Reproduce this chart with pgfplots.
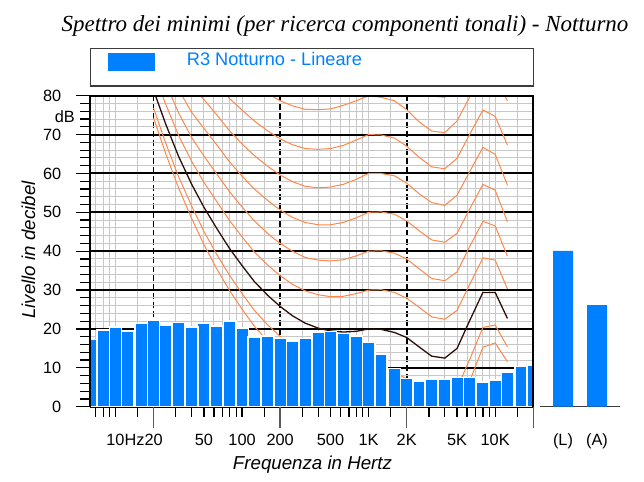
\documentclass[border=0pt]{standalone}
\usepackage{fontspec}
\setmainfont{Liberation Sans}
\newfontfamily\titlefont{Liberation Serif}
\usepackage{pgfplots}
\pgfplotsset{compat=1.18}

\definecolor{barblue}{RGB}{0,128,255}
\definecolor{isoor}{RGB}{255,135,75}
\definecolor{isoblk}{RGB}{45,15,10}
\definecolor{gridgray}{RGB}{200,200,200}
\definecolor{boxgray}{RGB}{60,60,60}
\definecolor{tickgray}{RGB}{90,90,90}

\begin{document}
\begin{tikzpicture}
\useasboundingbox (0,0) rectangle (644pt,481pt);

% titolo e legenda
\node[anchor=base, inner sep=0pt, font=\titlefont\itshape\fontsize{23}{27}\selectfont]
  at (345pt,449.3pt) {Spettro dei minimi (per ricerca componenti tonali) - Notturno};
\draw[boxgray, line width=1.3pt] (90.7pt,395pt) rectangle (533.3pt,432.3pt);
\fill[barblue] (108.3pt,410.3pt) rectangle (155pt,428.3pt);
\node[anchor=base west, inner sep=0pt, text=barblue, font=\fontsize{18.2}{22}\selectfont]
  at (186.7pt,415.3pt) {R3 Notturno - Lineare};

\begin{axis}[
  at={(90.3pt,74.3pt)}, anchor=south west,
  scale only axis, width=442.95pt, height=311pt,
  xmode=log, xmin=6.3246, xmax=20000, ymin=0, ymax=80,
  clip mode=individual,
  axis line style={draw=none},
  tick align=outside, xtick pos=bottom, ytick pos=left,
  major tick length=14pt, minor tick length=10pt,
  every tick/.style={black, line width=1.2pt},
  ytick={0,10,...,80}, minor ytick={2,4,...,78},
  xtick={20,200,2000,20000}, xticklabels={,,,},
  minor xtick={7,8,9,10,15,30,40,50,60,70,80,90,100,150,300,400,500,600,700,800,900,1000,1500,
    3000,4000,5000,6000,7000,8000,9000,10000,15000},
  extra x ticks={10,20,50,100,200,500,1000,2000,5000,10000},
  extra x tick labels={10\rlap{Hz},20,50,100,200,500,1K,2K,5K,10K},
  extra x tick style={major tick length=0pt, grid=none,
    xticklabel style={anchor=base, inner sep=0pt, yshift=-39pt}},
  xmajorgrids, xminorgrids, ymajorgrids, yminorgrids,
  minor grid style={draw=gridgray, line width=1pt},
  major x grid style={black, line width=1.7pt, dash pattern=on 6pt off 3pt},
  major y grid style={black, line width=2pt},
  tick label style={font=\fontsize{16.3}{19}\selectfont},
  yticklabel style={anchor=east, inner sep=0pt, xshift=-15pt},
  /pgf/number format/assume math mode=true,
]

% isofoniche: soglia, 10, 30...90 phon (arancio), 20 phon (nero)
\addplot[isoor, line width=1pt] coordinates {
  (20,74.3)(25,65.0)(31.5,56.3)(40,48.4)(50,41.7)(63,35.5)(80,29.8)(100,25.1)(125,20.7)(160,16.8)
  (200,13.8)(250,11.2)(315,8.9)(400,7.2)(500,6.0)(630,5.0)(800,4.4)(1000,4.2)(1250,3.7)(1600,2.6)
  (2000,1.0)(2500,-1.2)(3150,-3.6)(4000,-3.9)(5000,-1.1)(6300,6.6)(8000,15.3)(10000,16.4)(12500,11.6)};
\addplot[isoor, line width=1pt] coordinates {
  (20,76.8)(25,67.7)(31.5,59.2)(40,51.6)(50,45.1)(63,39.2)(80,33.7)(100,29.1)(125,24.8)(160,21.0)
  (200,18.1)(250,15.6)(315,13.4)(400,11.9)(500,10.9)(630,10.2)(800,9.9)(1000,10.0)(1250,9.7)(1600,8.7)
  (2000,7.2)(2500,4.9)(3150,2.5)(4000,2.1)(5000,4.8)(6300,12.2)(8000,20.4)(10000,21.0)(12500,15.4)};
\addplot[isoor, line width=1pt] coordinates {
  (20,86.1)(25,77.7)(31.5,69.8)(40,63.1)(50,57.7)(63,52.8)(80,47.8)(100,43.7)(125,39.8)(160,36.4)
  (200,33.7)(250,31.5)(315,29.8)(400,28.8)(500,28.3)(630,28.4)(800,29.1)(1000,30.0)(1250,30.1)(1600,29.4)
  (2000,27.9)(2500,25.6)(3150,23.1)(4000,22.5)(5000,24.8)(6300,31.5)(8000,38.3)(10000,37.7)(12500,30.3)};
\addplot[isoor, line width=1pt] coordinates {
  (20,91.2)(25,83.1)(31.5,75.6)(40,69.2)(50,64.5)(63,59.9)(80,55.2)(100,51.4)(125,47.8)(160,44.5)
  (200,42.0)(250,40.0)(315,38.4)(400,37.7)(500,37.5)(630,37.8)(800,38.8)(1000,40.0)(1250,40.1)(1600,39.5)
  (2000,38.0)(2500,35.5)(3150,33.0)(4000,32.4)(5000,34.7)(6300,41.2)(8000,47.7)(10000,46.5)(12500,38.7)};
\addplot[isoor, line width=1pt] coordinates {
  (20,96.5)(25,88.8)(31.5,81.6)(40,75.7)(50,71.6)(63,67.4)(80,62.9)(100,59.3)(125,56.0)(160,53.0)
  (200,50.6)(250,48.7)(315,47.4)(400,46.8)(500,46.8)(630,47.4)(800,48.6)(1000,50.0)(1250,50.1)(1600,49.5)
  (2000,47.8)(2500,45.3)(3150,42.9)(4000,42.3)(5000,44.6)(6300,50.9)(8000,57.2)(10000,55.7)(12500,47.6)};
\addplot[isoor, line width=1pt] coordinates {
  (20,102.1)(25,94.8)(31.5,88.0)(40,82.5)(50,79.0)(63,75.1)(80,70.9)(100,67.6)(125,64.6)(160,61.8)
  (200,59.6)(250,57.9)(315,56.7)(400,56.3)(500,56.5)(630,57.2)(800,58.5)(1000,60.0)(1250,60.0)(1600,59.4)
  (2000,57.5)(2500,54.8)(3150,52.5)(4000,51.8)(5000,54.4)(6300,60.5)(8000,66.7)(10000,64.9)(12500,57.0)};
\addplot[isoor, line width=1pt] coordinates {
  (20,108.0)(25,101.1)(31.5,94.7)(40,89.6)(50,86.9)(63,83.2)(80,79.2)(100,76.3)(125,73.5)(160,70.9)
  (200,68.9)(250,67.4)(315,66.4)(400,66.2)(500,66.4)(630,67.2)(800,68.6)(1000,70.0)(1250,69.9)(1600,69.1)
  (2000,67.0)(2500,64.2)(3150,61.7)(4000,61.2)(5000,63.9)(6300,70.1)(8000,76.3)(10000,74.7)(12500,67.3)};
\addplot[isoor, line width=1pt] coordinates {
  (20,114.2)(25,107.9)(31.5,101.8)(40,97.1)(50,95.2)(63,91.6)(80,87.9)(100,85.2)(125,82.8)(160,80.5)
  (200,78.7)(250,77.4)(315,76.5)(400,76.4)(500,76.6)(630,77.5)(800,78.7)(1000,80.0)(1250,79.6)(1600,78.7)
  (2000,76.4)(2500,73.3)(3150,70.9)(4000,70.5)(5000,73.5)(6300,79.7)(8000,85.8)(10000,84.4)(12500,78.7)};
\addplot[isoor, line width=1pt] coordinates {
  (20,120.9)(25,115.0)(31.5,109.4)(40,105.0)(50,103.9)(63,100.4)(80,96.9)(100,94.6)(125,92.5)(160,90.5)
  (200,88.8)(250,87.8)(315,87.1)(400,87.0)(500,87.2)(630,87.9)(800,88.9)(1000,90.0)(1250,89.3)(1600,88.1)
  (2000,85.6)(2500,82.3)(3150,79.9)(4000,79.6)(5000,83.0)(6300,89.2)(8000,95.3)(10000,94.0)(12500,88.0)};
\addplot[isoblk, line width=1.3pt] coordinates {
  (20,81.4)(25,72.6)(31.5,64.4)(40,57.2)(50,51.3)(63,45.9)(80,40.6)(100,36.3)(125,32.2)(160,28.6)
  (200,25.8)(250,23.4)(315,21.5)(400,20.2)(500,19.5)(630,19.2)(800,19.4)(1000,20.0)(1250,19.9)(1600,19.1)
  (2000,17.8)(2500,15.4)(3150,13.0)(4000,12.5)(5000,15.0)(6300,22.2)(8000,29.4)(10000,29.4)(12500,22.7)};

% spettro dei minimi in terzi d'ottava
\addplot[ybar, bar width=12.4pt, fill=barblue, draw=white, line width=1.4pt] coordinates {
  (6.3,17.3)(8,19.7)(10,20.5)(12.5,19.3)(16,21.4)(20,22.1)(25,21.0)(31.5,21.6)(40,20.5)(50,21.5)
  (63,20.8)(80,22.0)(100,20.2)(125,17.9)(160,18.2)(200,17.7)(250,16.7)(315,17.6)(400,19.2)(500,19.3)
  (630,18.9)(800,18.2)(1000,16.5)(1250,13.5)(1600,9.9)(2000,7.3)(2500,6.6)(3150,7.1)(4000,7.0)(5000,7.5)
  (6300,7.5)(8000,6.4)(10000,6.9)(12500,8.8)(16000,10.3)(20000,10.7)};

\draw[black, line width=2pt] (rel axis cs:0,0) -- (rel axis cs:0,1) -- (rel axis cs:1,1) -- (rel axis cs:1,0);
\coordinate (t1) at (axis cs:20,0);
\coordinate (t2) at (axis cs:200,0);
\coordinate (t3) at (axis cs:2000,0);
\coordinate (t4) at (axis cs:20000,0);
\end{axis}

% tacche lunghe delle decadi
\foreach \t in {t1,t2,t3,t4}
  \draw[tickgray, line width=1.4pt] (\t) -- ++(0pt,-21pt);

\node[anchor=east, inner sep=0pt, font=\fontsize{16.3}{19}\selectfont] at (75pt,364.3pt) {dB};
\node[anchor=base, inner sep=0pt, font=\itshape\fontsize{18.7}{22}\selectfont] at (312.5pt,11pt) {Frequenza in Hertz};
\node[anchor=base, rotate=90, inner sep=0pt, font=\itshape\fontsize{18.7}{22}\selectfont] at (35pt,231pt) {Livello in decibel};

% livelli globali
\begin{axis}[
  at={(540pt,74.3pt)}, anchor=south west,
  scale only axis, width=80pt, height=311pt,
  xmin=-0.676, xmax=1.676, ymin=0, ymax=80,
  axis y line=none, axis x line=bottom,
  x axis line style={-, draw=boxgray, line width=1.5pt},
  xtick={0,1}, xticklabels={(L),(A)}, major tick length=0pt,
  xticklabel style={anchor=base, inner sep=0pt, yshift=-39pt, font=\fontsize{16.3}{19}\selectfont},
]
\addplot[ybar, bar width=20pt, fill=barblue, draw=none] coordinates {(0,40.1)(1,26.1)};
\end{axis}
\end{tikzpicture}
\end{document}
